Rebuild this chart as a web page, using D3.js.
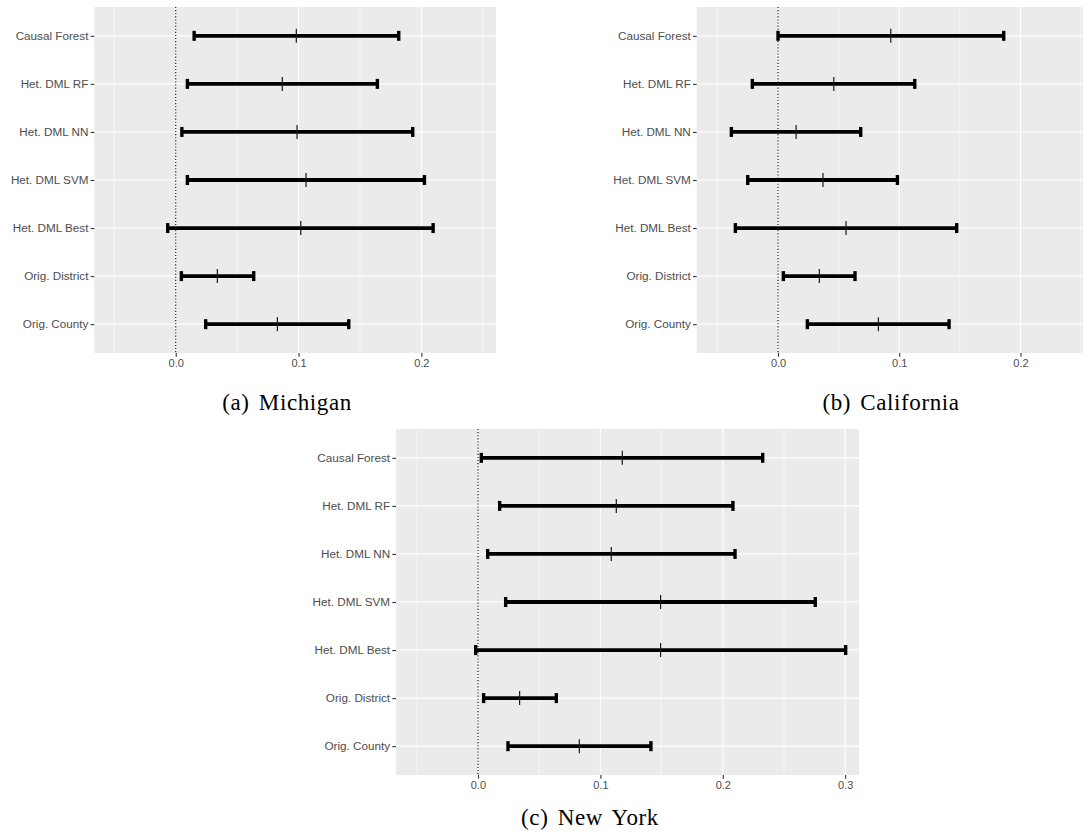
<!DOCTYPE html>
<html>
<head>
<meta charset="utf-8">
<script src="https://cdn.jsdelivr.net/npm/d3@7/dist/d3.min.js"></script>
<style>
  html, body { margin: 0; padding: 0; background: #ffffff; }
  svg { display: block; }
</style>
</head>
<body>
<svg id="fig" width="1088" height="840"></svg>
<script>
// Estimation methods, top to bottom
const methods = ["Causal Forest", "Het. DML RF", "Het. DML NN", "Het. DML SVM",
                 "Het. DML Best", "Orig. District", "Orig. County"];

// Michigan: confidence interval bounds and point estimates
const michiganLow  = [0.0150, 0.0095, 0.0050, 0.0095, -0.0065, 0.0046, 0.0244];
const michiganEst  = [0.0982, 0.0868, 0.0988, 0.1061, 0.1018, 0.0339, 0.0828];
const michiganHigh = [0.1816, 0.1642, 0.1930, 0.2025, 0.2096, 0.0635, 0.1409];

// California
const californiaLow  = [0.0000, -0.0212, -0.0385, -0.0250, -0.0352, 0.0044, 0.0242];
const californiaEst  = [0.0930, 0.0460, 0.0149, 0.0371, 0.0561, 0.0341, 0.0828];
const californiaHigh = [0.1862, 0.1128, 0.0682, 0.0985, 0.1474, 0.0635, 0.1411];

// New York
const newYorkLow  = [0.0027, 0.0177, 0.0079, 0.0226, -0.0019, 0.0046, 0.0245];
const newYorkEst  = [0.1179, 0.1130, 0.1089, 0.1492, 0.1492, 0.0340, 0.0828];
const newYorkHigh = [0.2326, 0.2083, 0.2100, 0.2756, 0.3004, 0.0640, 0.1413];

// Axis ticks
const ticksAB = [0.0, 0.1, 0.2];
const ticksC  = [0.0, 0.1, 0.2, 0.3];
const minorAB = [-0.05, 0.05, 0.15, 0.25];
const minorC  = [-0.05, 0.05, 0.15, 0.25];

const captions = ["(a) Michigan", "(b) California", "(c) New York"];

const svg = d3.select("#fig");

function drawPanel(cfg) {
  const g = svg.append("g");
  const x = d3.scaleLinear().domain(cfg.domain).range([cfg.left, cfg.right]);
  const y = d3.scalePoint().domain(methods).range([cfg.top, cfg.bottom]).padding(0.6);

  const rows = methods.map((m, i) => ({ m, lo: cfg.low[i], est: cfg.est[i], hi: cfg.high[i] }));

  // panel background
  g.append("rect")
    .attr("x", cfg.left).attr("y", cfg.top)
    .attr("width", cfg.right - cfg.left).attr("height", cfg.bottom - cfg.top)
    .attr("fill", "#EBEBEB");

  // minor vertical grid
  g.selectAll(".minor").data(cfg.minor).join("line")
    .attr("x1", d => x(d)).attr("x2", d => x(d))
    .attr("y1", cfg.top).attr("y2", cfg.bottom)
    .attr("stroke", "#ffffff").attr("stroke-width", 0.55);

  // major vertical grid
  g.selectAll(".major").data(cfg.ticks).join("line")
    .attr("x1", d => x(d)).attr("x2", d => x(d))
    .attr("y1", cfg.top).attr("y2", cfg.bottom)
    .attr("stroke", "#ffffff").attr("stroke-width", 1.1);

  // horizontal grid at each method
  g.selectAll(".hgrid").data(methods).join("line")
    .attr("x1", cfg.left).attr("x2", cfg.right)
    .attr("y1", d => y(d)).attr("y2", d => y(d))
    .attr("stroke", "#ffffff").attr("stroke-width", 1.1);

  // dotted reference line at zero
  g.append("line")
    .attr("x1", x(0)).attr("x2", x(0))
    .attr("y1", cfg.top).attr("y2", cfg.bottom)
    .attr("stroke", "#000000").attr("stroke-width", 1.1)
    .attr("stroke-dasharray", "1.1,2");

  // interval bars
  g.selectAll(".bar").data(rows).join("line")
    .attr("x1", d => x(d.lo)).attr("x2", d => x(d.hi))
    .attr("y1", d => y(d.m)).attr("y2", d => y(d.m))
    .attr("stroke", "#000000").attr("stroke-width", 3.8);

  // end caps
  const caps = rows.flatMap(d => [{ m: d.m, v: d.lo }, { m: d.m, v: d.hi }]);
  g.selectAll(".cap").data(caps).join("line")
    .attr("x1", d => x(d.v)).attr("x2", d => x(d.v))
    .attr("y1", d => y(d.m) - 5).attr("y2", d => y(d.m) + 5)
    .attr("stroke", "#000000").attr("stroke-width", 3.4);

  // point estimate marks
  g.selectAll(".est").data(rows).join("line")
    .attr("x1", d => x(d.est)).attr("x2", d => x(d.est))
    .attr("y1", d => y(d.m) - 7).attr("y2", d => y(d.m) + 7)
    .attr("stroke", "#1a1a1a").attr("stroke-width", 1.2);

  // x axis
  const xAxis = d3.axisBottom(x).tickValues(cfg.ticks).tickFormat(d3.format(".1f"))
    .tickSizeInner(3.7).tickSizeOuter(0).tickPadding(2.5);
  const gx = g.append("g").attr("transform", `translate(0,${cfg.bottom})`).call(xAxis);
  gx.select(".domain").remove();
  gx.selectAll(".tick line").attr("stroke", "#333333").attr("stroke-width", 1.1);
  gx.selectAll(".tick text").attr("fill", "#4D4D4D")
    .style("font-family", "'Liberation Sans', Arial, sans-serif").style("font-size", "11px");

  // y axis
  const yAxis = d3.axisLeft(y).tickSizeInner(3.7).tickSizeOuter(0).tickPadding(2.2);
  const gy = g.append("g").attr("transform", `translate(${cfg.left},0)`).call(yAxis);
  gy.select(".domain").remove();
  gy.selectAll(".tick line").attr("stroke", "#333333").attr("stroke-width", 1.1);
  gy.selectAll(".tick text").attr("fill", "#4D4D4D")
    .style("font-family", "'Liberation Sans', Arial, sans-serif").style("font-size", "11.7px");

  // caption
  svg.append("text")
    .attr("x", cfg.capX).attr("y", cfg.capY)
    .attr("text-anchor", "middle")
    .style("font-family", "'Liberation Serif', 'Times New Roman', serif")
    .style("font-size", "23px")
    .style("letter-spacing", "0.6px")
    .style("word-spacing", "3px")
    .attr("fill", "#000000")
    .text(cfg.caption);
}

drawPanel({
  left: 94.3, right: 496, top: 7, bottom: 353,
  domain: [-0.0663, 0.2608],
  low: michiganLow, est: michiganEst, high: michiganHigh,
  ticks: ticksAB, minor: minorAB,
  caption: captions[0], capX: 287, capY: 410
});

drawPanel({
  left: 696.7, right: 1083, top: 7, bottom: 353,
  domain: [-0.0671, 0.2516],
  low: californiaLow, est: californiaEst, high: californiaHigh,
  ticks: ticksAB, minor: minorAB,
  caption: captions[1], capX: 891, capY: 410
});

drawPanel({
  left: 396, right: 859, top: 429, bottom: 775,
  domain: [-0.0670, 0.3113],
  low: newYorkLow, est: newYorkEst, high: newYorkHigh,
  ticks: ticksC, minor: minorC,
  caption: captions[2], capX: 590, capY: 825
});
</script>
</body>
</html>
